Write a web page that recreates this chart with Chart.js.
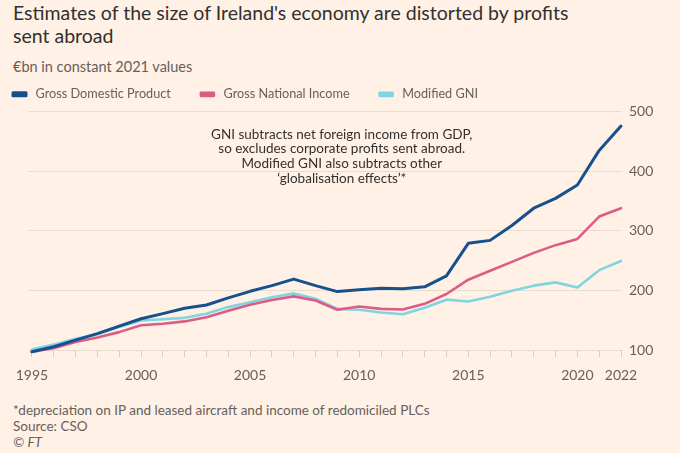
<!DOCTYPE html>
<html>
<head>
<meta charset="utf-8">
<script src="https://cdn.jsdelivr.net/npm/chart.js@4"></script>
<style>
  html, body { margin:0; padding:0; background:#fff1e5; }
  body { width:680px; height:453px; position:relative; overflow:hidden; font-family: Lato, "Open Sans", sans-serif; }
  #title { position:absolute; left:13px; top:1px; font-size:19.5px; line-height:23px; color:#33302e; }
  #subtitle { position:absolute; left:13px; top:58px; font-size:14.5px; color:#66605c; }
  #wrap { position:absolute; left:0; top:56px; width:680px; height:331px; }
  #foot { position:absolute; left:13px; top:402px; font-size:13.5px; line-height:16px; color:#66605c; }
</style>
</head>
<body>
<div id="title">Estimates of the size of Ireland's economy are distorted by profits<br>sent abroad</div>
<div id="subtitle">€bn in constant 2021 values</div>
<div id="wrap"><canvas id="c" width="680" height="331"></canvas></div>
<div id="foot">*depreciation on IP and leased aircraft and income of redomiciled PLCs<br>Source: CSO<br><i>© FT</i></div>
<script>
const years = [1995,1996,1997,1998,1999,2000,2001,2002,2003,2004,2005,2006,2007,2008,2009,2010,2011,2012,2013,2014,2015,2016,2017,2018,2019,2020,2021,2022];
const gdp  = [97,105.5,116.5,127.5,140,152.5,161,170,175.5,187.5,198.5,208,219,208,198,201,203.5,203,206,224.5,279,284,309,338,354.5,377,435,476];
const gni  = [97,103,113.5,121,130,141.5,144,148,155,166,176,184,190,183,167.5,173,169,168,177.5,194,218,233,248,263,276,286.5,324,338];
const mgni = [101,109,119,126.5,138.5,149.5,151.5,154,161,172,180,188.5,195,186,169,167.5,163,160,171,184.5,181.5,189.5,199.5,208,213.5,205,234,249.5];
const labelledYears = [1995,2000,2005,2010,2015,2020,2022];
const yTicks = [100,200,300,400,500];
const seriesNames = ['Gross Domestic Product','Gross National Income','Modified GNI'];
const annotationLines = ['GNI subtracts net foreign income from GDP,','so excludes corporate profits sent abroad.','Modified GNI also subtracts other','\u2018globalisation effects\u2019*'];

const colors = ['#17508f','#dc5c85','#7fd5e0'];
const toXY = arr => arr.map((v,i)=>({x:years[i], y:v}));
const FONT = 'Lato, "Open Sans", sans-serif';

const annot = {
  id:'annot',
  afterDatasetsDraw(chart){
    const {ctx, scales:{x,y}} = chart;
    ctx.save();
    ctx.font = '13.5px ' + FONT;
    ctx.fillStyle = '#33302e';
    ctx.textAlign = 'center';
    ctx.textBaseline = 'middle';
    const cx = x.getPixelForValue(2009.2);
    const y0 = y.getPixelForValue(462);
    annotationLines.forEach((t,i)=>ctx.fillText(t, cx, y0 + i*14.8));
    ctx.restore();
  }
};

const legendShift = {
  id:'legendShift',
  afterLayout(chart){
    const lg = chart.legend;
    const dx = 13 - lg.options.labels.padding - lg.left;
    lg.left += dx; lg.right += dx;
    lg.top -= 1; lg.bottom -= 1;
  }
};

new Chart(document.getElementById('c'), {
  type:'line',
  data:{
    datasets:[
      {label:seriesNames[0], data:toXY(gdp), borderColor:colors[0], backgroundColor:colors[0], borderWidth:3},
      {label:seriesNames[1], data:toXY(gni), borderColor:colors[1], backgroundColor:colors[1], borderWidth:2.6},
      {label:seriesNames[2], data:toXY(mgni), borderColor:colors[2], backgroundColor:colors[2], borderWidth:2.6}
    ]
  },
  options:{
    responsive:false,
    animation:false,
    clip:false,
    elements:{point:{radius:0}, line:{tension:0, borderJoinStyle:'round', borderCapStyle:'round'}},
    layout:{padding:{left:28, right:0, top:3, bottom:0}},
    plugins:{
      legend:{
        align:'start',
        labels:{boxWidth:13, boxHeight:3, padding:30, color:'#66605c', font:{size:12.7, family:FONT},
          generateLabels(chart){
            return Chart.defaults.plugins.legend.labels.generateLabels(chart).map(l=>({...l, text:' ' + l.text}));
          }}
      },
      tooltip:{enabled:false}
    },
    scales:{
      x:{
        type:'linear', min:1994.82, max:2022,
        afterBuildTicks(s){ s.ticks = years.map(v=>({value:v})); },
        afterFit(s){ s.height = 37; },
        grid:{drawOnChartArea:false, drawTicks:true, tickLength:7, color:'#d9cdc2'},
        border:{display:false},
        ticks:{autoSkip:false, maxRotation:0, padding:10, color:'#66605c', font:{size:14, family:FONT},
          callback(v){ return labelledYears.includes(v) ? String(v) : ''; }}
      },
      y:{
        position:'right', min:100, max:500,
        afterBuildTicks(s){ s.ticks = yTicks.map(v=>({value:v})); },
        afterFit(s){ s.width = 59; },
        grid:{color:'#e9dccf', drawTicks:false},
        border:{display:false},
        ticks:{padding:8, color:'#66605c', font:{size:14, family:FONT}}
      }
    }
  },
  plugins:[annot, legendShift]
});
</script>
</body>
</html>
